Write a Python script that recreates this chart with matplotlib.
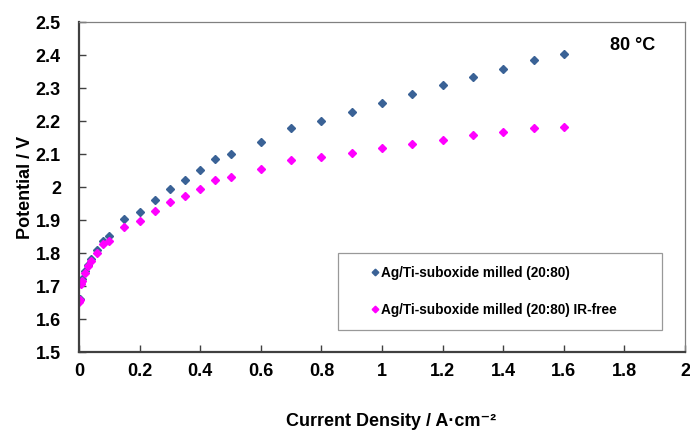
"""Polarisation curve of Ag/Ti-suboxide milled (20:80) electrode at 80 °C."""

import matplotlib

matplotlib.use("Agg")
import matplotlib.pyplot as plt

plt.rcParams["font.family"] = ["Liberation Sans", "DejaVu Sans"]
plt.rcParams["font.weight"] = "bold"

current = [0.0, 0.002, 0.005, 0.01, 0.02, 0.03, 0.04, 0.06, 0.08, 0.1,
           0.15, 0.2, 0.25, 0.3, 0.35, 0.4, 0.45, 0.5, 0.6, 0.7,
           0.8, 0.9, 1.0, 1.1, 1.2, 1.3, 1.4, 1.5, 1.6]
potential = [1.655, 1.662, 1.712, 1.72, 1.745, 1.765, 1.781, 1.808, 1.837, 1.852,
             1.902, 1.924, 1.962, 1.995, 2.022, 2.051, 2.085, 2.101, 2.136, 2.179,
             2.201, 2.227, 2.256, 2.283, 2.308, 2.334, 2.358, 2.384, 2.402]
potential_irfree = [1.652, 1.658, 1.706, 1.714, 1.74, 1.76, 1.776, 1.80, 1.827, 1.836,
                    1.879, 1.896, 1.927, 1.955, 1.974, 1.995, 2.022, 2.031, 2.054, 2.083,
                    2.091, 2.104, 2.119, 2.131, 2.143, 2.157, 2.166, 2.178, 2.182]

LABEL_1 = "Ag/Ti-suboxide milled (20:80)"
LABEL_2 = "Ag/Ti-suboxide milled (20:80) IR-free"

fig = plt.figure(figsize=(6.9, 4.32), dpi=100)
ax = fig.add_axes([0.1145, 0.185, 0.8783, 0.764])

ax.plot(current, potential, linestyle="none", marker="D", markersize=4.2,
        color="#3A6296", label=LABEL_1)
ax.plot(current, potential_irfree, linestyle="none", marker="D", markersize=4.2,
        color="#FF00FF", label=LABEL_2)

ax.set_xlim(0, 2)
ax.set_ylim(1.5, 2.5)
ax.set_xticks([0, 0.2, 0.4, 0.6, 0.8, 1.0, 1.2, 1.4, 1.6, 1.8, 2.0])
ax.set_xticklabels(["0", "0.2", "0.4", "0.6", "0.8", "1", "1.2", "1.4", "1.6", "1.8", "2"])
ax.set_yticks([1.5, 1.6, 1.7, 1.8, 1.9, 2.0, 2.1, 2.2, 2.3, 2.4, 2.5])
ax.set_yticklabels(["1.5", "1.6", "1.7", "1.8", "1.9", "2", "2.1", "2.2", "2.3", "2.4", "2.5"])
ax.tick_params(axis="both", direction="in", length=5, width=1, color="#404040",
               labelsize=13)
ax.tick_params(axis="y", pad=13)
ax.tick_params(axis="x", pad=8)

for side in ("left", "bottom"):
    ax.spines[side].set_color("#404040")
    ax.spines[side].set_linewidth(1.6)
for side in ("top", "right"):
    ax.spines[side].set_color("#808080")
    ax.spines[side].set_linewidth(0.9)

ax.set_ylabel("Potential / V", fontsize=13, fontweight="bold")
ax.yaxis.set_label_coords(-0.075, 0.5)
ax.set_xlabel("Current Density / A·cm⁻²", fontsize=13, fontweight="bold")
ax.xaxis.set_label_coords(0.515, -0.185)

ax.text(0.913, 0.93, "80 °C", transform=ax.transAxes, fontsize=13,
        fontweight="bold", ha="center", va="center")

leg = ax.legend(loc="lower left", bbox_to_anchor=(0.427, 0.067, 0.535, 0.227),
                mode="expand", fontsize=9.8, frameon=True, fancybox=False,
                borderpad=0.95, labelspacing=1.7, handlelength=3.5,
                handletextpad=-1.3, markerscale=0.8, borderaxespad=0)
leg.get_frame().set_edgecolor("#808080")
leg.get_frame().set_linewidth(0.9)
for t in leg.get_texts():
    t.set_fontweight("bold")

fig.savefig("out.png", dpi=100)
